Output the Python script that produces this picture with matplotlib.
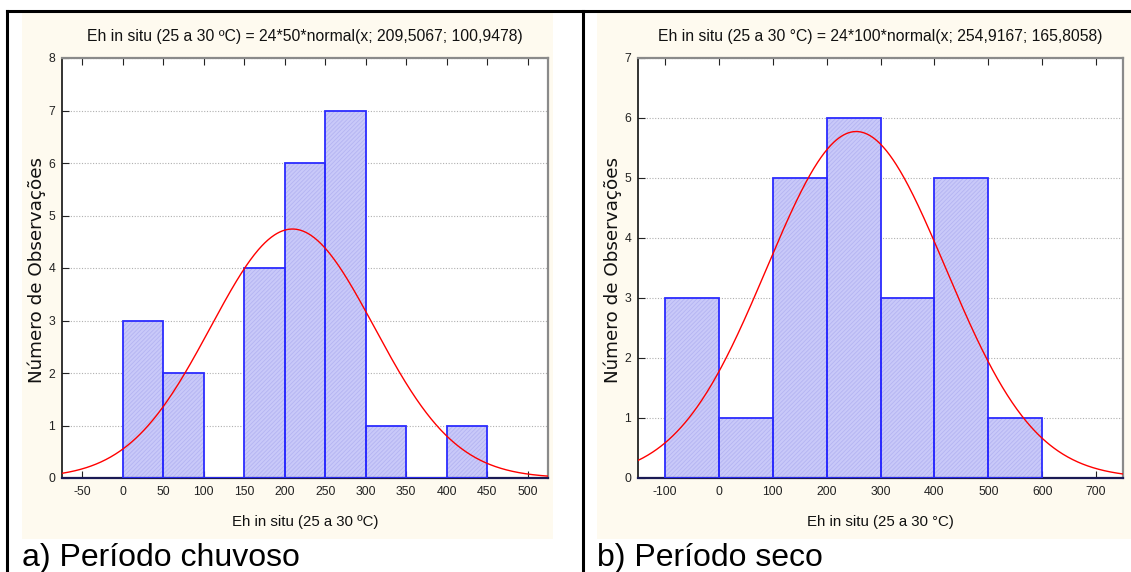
import numpy as np
import matplotlib
matplotlib.use("Agg")
import matplotlib.pyplot as plt
from matplotlib import font_manager
from matplotlib.patches import Rectangle
from matplotlib.lines import Line2D

# --- data -------------------------------------------------------------
rain_edges = [0, 50, 100, 150, 200, 250, 300, 350, 400, 450]
rain_counts = [3, 2, 0, 4, 6, 7, 1, 0, 1]
rain_mean, rain_sd, rain_n, rain_w = 209.5067, 100.9478, 24, 50
rain_xticks = [-50, 0, 50, 100, 150, 200, 250, 300, 350, 400, 450, 500]

dry_edges = [-100, 0, 100, 200, 300, 400, 500, 600]
dry_counts = [3, 1, 5, 6, 3, 5, 1]
dry_mean, dry_sd, dry_n, dry_w = 254.9167, 165.8058, 24, 100
dry_xticks = [-100, 0, 100, 200, 300, 400, 500, 600, 700]

titles = ["Eh in situ (25 a 30 ºC) = 24*50*normal(x; 209,5067; 100,9478)",
          "Eh in situ (25 a 30 °C) = 24*100*normal(x; 254,9167; 165,8058)"]
xlabels = ["Eh in situ (25 a 30 ºC)", "Eh in situ (25 a 30 °C)"]
ylabel = "Número de Observações"
captions = ["a) Período chuvoso", "b) Período seco"]

# --- fonts ------------------------------------------------------------
names = {f.name for f in font_manager.fontManager.ttflist}
narrow = "Liberation Sans Narrow" if "Liberation Sans Narrow" in names else "Liberation Sans"
plt.rcParams["font.family"] = [narrow, "DejaVu Sans"]
plt.rcParams["axes.unicode_minus"] = False
plt.rcParams["hatch.linewidth"] = 0.6

W, H = 1131, 572
fig = plt.figure(figsize=(W / 100, H / 100), dpi=100)
fig.patch.set_facecolor("white")

def fx(px):
    return px / W

def fy(py):
    return 1 - py / H

cream = "#fefaef"
# panel backgrounds
for x0, x1 in [(22, 553), (597, 1131)]:
    fig.patches.append(Rectangle((fx(x0), fy(539)), fx(x1 - x0), (539 - 12) / H,
                                 transform=fig.transFigure, facecolor=cream,
                                 edgecolor="none", zorder=-5))

# frame lines
for xs, ys in [((7, 1131), (11, 11)), ((7, 7), (11, 572)), ((583, 583), (11, 572))]:
    fig.lines.append(Line2D([fx(v) for v in xs], [fy(v) for v in ys],
                            transform=fig.transFigure, color="black", lw=2.2, zorder=5))

def normal_curve(x, n, w, mu, sd):
    return n * w * np.exp(-0.5 * ((x - mu) / sd) ** 2) / (sd * np.sqrt(2 * np.pi))

specs = [
    dict(edges=rain_edges, counts=rain_counts, mu=rain_mean, sd=rain_sd, n=rain_n, w=rain_w,
         xticks=rain_xticks, xlim=(-75, 525), ylim=8, left=62, right=548, cx=305, cap_x=22),
    dict(edges=dry_edges, counts=dry_counts, mu=dry_mean, sd=dry_sd, n=dry_n, w=dry_w,
         xticks=dry_xticks, xlim=(-150, 750), ylim=7, left=638, right=1123, cx=880, cap_x=597),
]

top_px, bot_px = 58, 478
for i, s in enumerate(specs):
    ax = fig.add_axes([fx(s["left"]), fy(bot_px), fx(s["right"] - s["left"]), (bot_px - top_px) / H])
    ax.set_zorder(2)
    ax.set_facecolor("white")
    edges = np.array(s["edges"], dtype=float)
    widths = np.diff(edges)
    # finely hatched fill
    ax.bar(edges[:-1], s["counts"], width=widths, align="edge", facecolor="#c9c9f9",
           edgecolor="#b4b4f2", hatch="////////", linewidth=0, zorder=2)
    # bar outlines
    ax.bar(edges[:-1], s["counts"], width=widths, align="edge", fill=False,
           edgecolor="#2b2bff", linewidth=1.3, zorder=3)
    xx = np.linspace(s["xlim"][0], s["xlim"][1], 600)
    ax.plot(xx, normal_curve(xx, s["n"], s["w"], s["mu"], s["sd"]), color="#ff0000", lw=1.0, zorder=4)

    ax.set_xlim(*s["xlim"])
    ax.set_ylim(0, s["ylim"])
    ax.set_xticks(s["xticks"])
    ax.set_yticks(range(0, s["ylim"] + 1))
    ax.yaxis.grid(True, linestyle=(0, (1, 1.5)), color="#b0b0b0", lw=0.8, zorder=1)
    ax.set_axisbelow(True)
    ax.tick_params(axis="both", direction="in", labelsize=8.8, colors="#222222",
                   length=5, width=0.8, top=True, right=False, pad=6)
    ax.tick_params(axis="y", pad=5)
    ax.spines["left"].set_color("#111111")
    ax.spines["bottom"].set_color("#1a1a55")
    ax.spines["left"].set_linewidth(1.2)
    ax.spines["bottom"].set_linewidth(1.6)
    for side in ("top", "right"):
        ax.spines[side].set_color("#8a8a8a")
        ax.spines[side].set_linewidth(1.6)

    fig.text(fx(s["cx"]), fy(37), titles[i], ha="center", va="center", fontsize=11.3, color="#111111")
    fig.text(fx(s["cx"]), fy(522), xlabels[i], ha="center", va="center", fontsize=10.8, color="#111111")
    fig.text(fx(s["left"] - 25), fy(270), ylabel, rotation=90, ha="center",
             va="center", fontsize=13.2, color="#111111", family=["DejaVu Sans"])
    fig.text(fx(s["cap_x"]), fy(558), captions[i], ha="left", va="center", fontsize=23,
             color="black", family=["Liberation Sans", "DejaVu Sans"])

fig.savefig("out.png", dpi=100)
